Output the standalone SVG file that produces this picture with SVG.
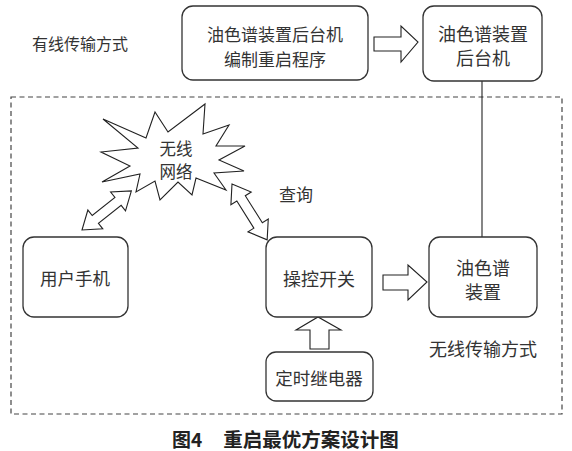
<svg xmlns="http://www.w3.org/2000/svg" width="572" height="451" viewBox="0 0 572 451">
<style>
.box{fill:#fff;stroke:#333;stroke-width:1.3}
.t{font-family:"Noto Sans CJK SC","Noto Sans",sans-serif;fill:#333;text-anchor:middle;dominant-baseline:central}
.ar{fill:#fff;stroke:#222;stroke-width:1.1;stroke-linejoin:miter}
</style>
<rect x="0" y="0" width="572" height="451" fill="#fff"/>
<rect x="11" y="97" width="551" height="317" fill="none" stroke="#444" stroke-width="1.2" stroke-dasharray="5,3.5"/>
<text class="t" x="80" y="43" font-size="16">有线传输方式</text>
<text class="t" x="483" y="348" font-size="18">无线传输方式</text>
<text class="t" x="296" y="193" font-size="17">查询</text>
<g id="connectors">
<line x1="482" y1="81" x2="482" y2="237" stroke="#222" stroke-width="1.1"/>
<polygon class="ar" points="374,37 401,37 401,26 418,42 401,62 401,51 374,51"/>
<polygon class="ar" points="383,275 408,275 408,265 427,282 408,300 408,290 383,290"/>
<polygon class="ar" points="310,349 310,330 296,330 318,317 341,330 329,330 329,349"/>
<polygon class="ar" transform="translate(82,230) rotate(-38.4)" points="0,0 17,-12 17,-5 46,-5 46,-12 63,0 46,12 46,5 17,5 17,12"/>
<polygon class="ar" transform="translate(232,184) rotate(57.8)" points="0,0 17,-12 17,-5 49,-5 49,-12 66,0 49,12 49,5 17,5 17,12"/>
</g>
<g id="compile">
<rect class="box" x="182" y="6" width="186" height="74" rx="11"/>
<text class="t" x="275" y="33" font-size="17">油色谱装置后台机</text>
<text class="t" x="275" y="58" font-size="17">编制重启程序</text>
</g>
<g id="backend">
<rect class="box" x="423" y="6" width="119" height="75" rx="11"/>
<text class="t" x="483" y="33" font-size="18">油色谱装置</text>
<text class="t" x="483" y="57" font-size="18">后台机</text>
</g>
<g id="network">
<polygon fill="#fff" stroke="#222" stroke-width="1.1" stroke-linejoin="miter" points="103,119 146,138 155,112 168,132 205,104 203,134 229,125 216,146 245,146 219,160 244,171 214,173 226,190 196,178 192,195 178,182 160,200 155,181 136,192 140,174 102,182 130,166 101,152 138,148"/>
<text class="t" x="176" y="148" font-size="16.5">无线</text>
<text class="t" x="176" y="171" font-size="16.5">网络</text>
</g>
<g id="phone">
<rect class="box" x="23" y="237" width="105" height="80" rx="11"/>
<text class="t" x="75" y="277" font-size="17.5">用户手机</text>
</g>
<g id="switch">
<rect class="box" x="266" y="237" width="106" height="80" rx="11"/>
<text class="t" x="319" y="278" font-size="18">操控开关</text>
</g>
<g id="device">
<rect class="box" x="429" y="237" width="108" height="80" rx="11"/>
<text class="t" x="483" y="267" font-size="18">油色谱</text>
<text class="t" x="483" y="291" font-size="18">装置</text>
</g>
<g id="relay">
<rect class="box" x="266" y="352" width="107" height="49" rx="10"/>
<text class="t" x="319" y="377" font-size="17.5">定时继电器</text>
</g>
<text x="172" y="438" font-family="'Noto Sans CJK SC','Noto Sans',sans-serif" font-size="19" font-weight="bold" fill="#222" dominant-baseline="central">图4</text>
<text x="311" y="438" font-family="'Noto Sans CJK SC','Noto Sans',sans-serif" font-size="19.5" font-weight="bold" fill="#222" text-anchor="middle" dominant-baseline="central">重启最优方案设计图</text>
</svg>
